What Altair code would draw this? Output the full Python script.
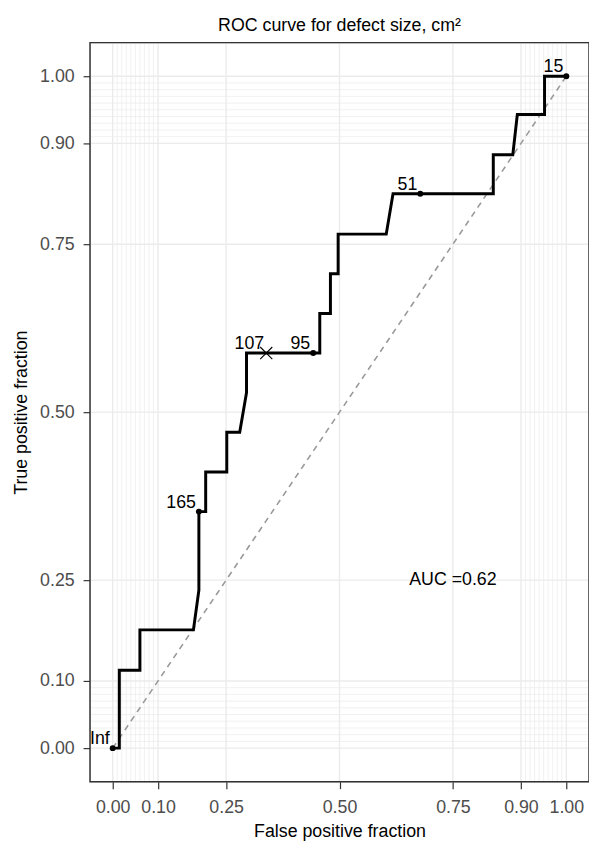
import altair as alt
import pandas as pd

# ROC curve vertices (false positive fraction, true positive fraction)
fpf = [0.0, 0.0146, 0.0146, 0.060, 0.060, 0.178, 0.190, 0.190, 0.205, 0.205, 0.2515, 0.2515,
       0.280, 0.295, 0.295, 0.3385, 0.442, 0.4565, 0.4565, 0.480, 0.480, 0.497, 0.497, 0.603,
       0.618, 0.678, 0.839, 0.839, 0.882, 0.892, 0.952, 0.952, 1.0]
tpf = [0.0, 0.0, 0.116, 0.116, 0.176, 0.176, 0.235, 0.352, 0.352, 0.411, 0.411, 0.470,
       0.470, 0.529, 0.588, 0.588, 0.588, 0.588, 0.647, 0.647, 0.706, 0.706, 0.765, 0.765,
       0.825, 0.825, 0.825, 0.883, 0.883, 0.943, 0.943, 1.0, 1.0]

# labelled cutoffs
cut_fpf = [0.0, 0.190, 0.442, 0.678, 1.0]
cut_tpf = [0.0, 0.352, 0.588, 0.825, 1.0]
cut_label = ["Inf", "165", "95", "51", "15"]

# optimal cutoff (cross)
opt_fpf = [0.3385]
opt_tpf = [0.588]
opt_label = ["107"]

auc_text = ["AUC =0.62"]
auc_x = [0.75]
auc_y = [0.25]

major_breaks = [0.0, 0.1, 0.25, 0.5, 0.75, 0.9, 1.0]
minor_breaks = [0.01, 0.02, 0.03, 0.04, 0.05, 0.06, 0.07, 0.08, 0.09,
                0.91, 0.92, 0.93, 0.94, 0.95, 0.96, 0.97, 0.98, 0.99]

W, H = 505, 748
FONT = "Liberation Sans"

curve = pd.DataFrame({"fpf": fpf, "tpf": tpf, "order": list(range(len(fpf)))})
cuts = pd.DataFrame({"fpf": cut_fpf, "tpf": cut_tpf, "label": cut_label})
opt = pd.DataFrame({"fpf": opt_fpf, "tpf": opt_tpf, "label": opt_label})
auc = pd.DataFrame({"x": auc_x, "y": auc_y, "t": auc_text})
maj = pd.DataFrame({"v": major_breaks})
mino = pd.DataFrame({"v": minor_breaks})
diag = pd.DataFrame({"fpf": [0.0, 1.0], "tpf": [0.0, 1.0]})
frame = pd.DataFrame({"a": [0]})

xs = alt.Scale(domain=[-0.05, 1.05], nice=False, zero=False)
ys = alt.Scale(domain=[-0.05, 1.05], nice=False, zero=False)

x_axis = alt.Axis(values=major_breaks, format=".2f", title="False positive fraction",
                  grid=False, domain=False, tickColor="#333333", tickSize=7, tickWidth=1.2,
                  labelFontSize=18, labelColor="#4D4D4D", labelFont=FONT, labelPadding=10,
                  labelFlush=False, titleFont=FONT, titleFontSize=18, titleFontWeight="normal",
                  titleColor="#000000", titlePadding=6)
y_axis = alt.Axis(values=major_breaks, format=".2f", title="True positive fraction",
                  grid=False, domain=False, tickColor="#333333", tickSize=7, tickWidth=1.2,
                  labelFontSize=18, labelColor="#4D4D4D", labelFont=FONT, labelPadding=9,
                  labelFlush=False, titleFont=FONT, titleFontSize=18, titleFontWeight="normal",
                  titleColor="#000000", titlePadding=9)

vmin = alt.Chart(mino).mark_rule(color="#EBEBEB", strokeWidth=0.7).encode(
    x=alt.X("v:Q", scale=xs, axis=x_axis), y=alt.value(0), y2=alt.value(H))
hmin = alt.Chart(mino).mark_rule(color="#EBEBEB", strokeWidth=0.7).encode(
    y=alt.Y("v:Q", scale=ys, axis=y_axis), x=alt.value(0), x2=alt.value(W))
vmaj = alt.Chart(maj).mark_rule(color="#EBEBEB", strokeWidth=1.4).encode(
    x=alt.X("v:Q", scale=xs, axis=x_axis), y=alt.value(0), y2=alt.value(H))
hmaj = alt.Chart(maj).mark_rule(color="#EBEBEB", strokeWidth=1.4).encode(
    y=alt.Y("v:Q", scale=ys, axis=y_axis), x=alt.value(0), x2=alt.value(W))

diag_line = alt.Chart(diag).mark_line(color="#999999", strokeWidth=1.6, strokeDash=[6, 5]).encode(
    x=alt.X("fpf:Q", scale=xs, axis=x_axis), y=alt.Y("tpf:Q", scale=ys, axis=y_axis))

roc = alt.Chart(curve).mark_line(color="#000000", strokeWidth=3, strokeJoin="miter").encode(
    x=alt.X("fpf:Q", scale=xs, axis=x_axis), y=alt.Y("tpf:Q", scale=ys, axis=y_axis),
    order="order:Q")

pts = alt.Chart(cuts).mark_circle(color="#000000", size=36, opacity=1).encode(
    x=alt.X("fpf:Q", scale=xs, axis=x_axis), y=alt.Y("tpf:Q", scale=ys, axis=y_axis))

lbls = alt.Chart(cuts).mark_text(align="right", baseline="alphabetic", dx=-3, dy=-4,
                                 fontSize=18, font=FONT, color="#000000").encode(
    x=alt.X("fpf:Q", scale=xs, axis=x_axis), y=alt.Y("tpf:Q", scale=ys, axis=y_axis),
    text="label:N")

cross = alt.Chart(opt).mark_point(shape="M-1,-1L1,1M-1,1L1,-1", filled=False, size=150,
                                  color="#000000", strokeWidth=1.1, opacity=1).encode(
    x=alt.X("fpf:Q", scale=xs, axis=x_axis), y=alt.Y("tpf:Q", scale=ys, axis=y_axis))

opt_lbl = alt.Chart(opt).mark_text(align="right", baseline="alphabetic", dx=-2, dy=-4,
                                   fontSize=18, font=FONT, color="#000000").encode(
    x=alt.X("fpf:Q", scale=xs, axis=x_axis), y=alt.Y("tpf:Q", scale=ys, axis=y_axis),
    text="label:N")

auc_lbl = alt.Chart(auc).mark_text(align="center", baseline="middle", fontSize=18,
                                   font=FONT, color="#000000").encode(
    x=alt.X("x:Q", scale=xs, axis=x_axis), y=alt.Y("y:Q", scale=ys, axis=y_axis),
    text="t:N")

border = alt.Chart(frame).mark_rect(fill=None, filled=False, stroke="#333333",
                                    strokeWidth=1.5).encode(
    x=alt.value(0), x2=alt.value(W), y=alt.value(0), y2=alt.value(H))

chart = alt.layer(
    vmin, hmin, vmaj, hmaj, diag_line, roc, pts, lbls, cross, opt_lbl, auc_lbl, border
).properties(
    width=W, height=H,
    title=alt.TitleParams("ROC curve for defect size, cm²", fontSize=18, font=FONT,
                          fontWeight="normal", color="#000000", anchor="middle", offset=7),
    autosize=alt.AutoSizeParams(type="none"),
    padding={"left": 83, "top": 30, "right": 0, "bottom": 60},
).configure_view(stroke=None).configure(background="white")

chart.save("out.html", embed_options={"renderer": "svg", "actions": False})
